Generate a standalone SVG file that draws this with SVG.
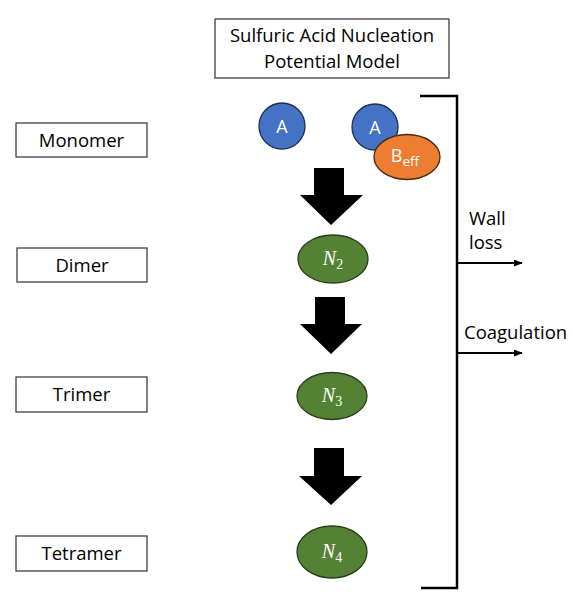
<svg xmlns="http://www.w3.org/2000/svg" width="573" height="600" viewBox="0 0 573 600">
<style>
.box{fill:#fff;stroke:#404040;stroke-width:1.3}
.lbl{font-family:"Open Sans","Liberation Sans",sans-serif;font-size:18.5px;fill:#000;text-anchor:middle}
.mol{font-family:"Open Sans","Liberation Sans",sans-serif;font-size:18px;fill:#fff;text-anchor:middle}
.n{font-family:"Liberation Serif","DejaVu Serif",serif;font-size:20px;fill:#fff;text-anchor:middle}
.g{fill:#548235;stroke:#2b3d1c;stroke-width:1.3}
.blk{fill:#000}
.ln{stroke:#000;stroke-width:2.5;fill:none}
</style>
<defs>
<marker id="ah" viewBox="0 0 10 10" refX="9" refY="5" markerWidth="9" markerHeight="7" orient="auto" markerUnits="userSpaceOnUse" preserveAspectRatio="none"><path d="M0,0 L10,5 L0,10 z" fill="#000"/></marker>
</defs>
<g id="title">
<rect class="box" x="215" y="19" width="234" height="59"/>
<text class="lbl" x="332" y="42">Sulfuric Acid Nucleation</text>
<text class="lbl" x="332" y="68">Potential Model</text>
</g>
<g id="monomer"><rect class="box" x="16" y="123" width="131" height="34"/><text class="lbl" x="81.5" y="146.5">Monomer</text></g>
<g id="dimer"><rect class="box" x="17" y="248" width="130" height="34"/><text class="lbl" x="82" y="271.5">Dimer</text></g>
<g id="trimer"><rect class="box" x="16" y="377" width="131" height="35"/><text class="lbl" x="81.5" y="401">Trimer</text></g>
<g id="tetramer"><rect class="box" x="16" y="536" width="131" height="35"/><text class="lbl" x="81.5" y="560">Tetramer</text></g>
<g id="A1"><circle cx="282" cy="126" r="23" fill="#4472C4" stroke="#1f2f55" stroke-width="1.3"/><text class="mol" x="282" y="132.5">A</text></g>
<g id="A2"><circle cx="375" cy="127" r="23" fill="#4472C4" stroke="#1f2f55" stroke-width="1.3"/><text class="mol" x="375" y="133.5">A</text></g>
<g id="Beff"><ellipse cx="407" cy="157" rx="33" ry="22.5" fill="#ED7D31" stroke="#4a2a10" stroke-width="1.3"/><text class="mol" x="405" y="162">B<tspan font-size="13.5" dy="4">eff</tspan></text></g>
<g id="N2"><ellipse class="g" cx="333" cy="259" rx="35" ry="24"/><text class="n" x="333" y="265"><tspan font-style="italic">N</tspan><tspan font-size="14" dy="4">2</tspan></text></g>
<g id="N3"><ellipse class="g" cx="332" cy="396" rx="35" ry="23.5"/><text class="n" x="332" y="402"><tspan font-style="italic">N</tspan><tspan font-size="14" dy="4">3</tspan></text></g>
<g id="N4"><ellipse class="g" cx="332" cy="552" rx="35" ry="26"/><text class="n" x="332" y="558"><tspan font-style="italic">N</tspan><tspan font-size="14" dy="4">4</tspan></text></g>
<g id="connectors">
<path class="blk" d="M314,168 H344 V195 H363 L331,225 L300,195 H314 Z"/>
<path class="blk" d="M315,297 H345 V324 H362 L331,354 L300,324 H315 Z"/>
<path class="blk" d="M314,448 H344 V476 H362 L331,505 L299,476 H314 Z"/>
<path class="ln" d="M420,96 H457 V588 H421"/>
<line x1="457" y1="263" x2="522" y2="263" stroke="#000" stroke-width="2" marker-end="url(#ah)"/>
<line x1="457" y1="353" x2="522" y2="353" stroke="#000" stroke-width="2" marker-end="url(#ah)"/>
</g>
<g id="labels">
<text class="lbl" x="469" y="225" style="text-anchor:start">Wall</text>
<text class="lbl" x="469" y="249" style="text-anchor:start">loss</text>
<text class="lbl" x="464" y="339" style="text-anchor:start">Coagulation</text>
</g>
</svg>
